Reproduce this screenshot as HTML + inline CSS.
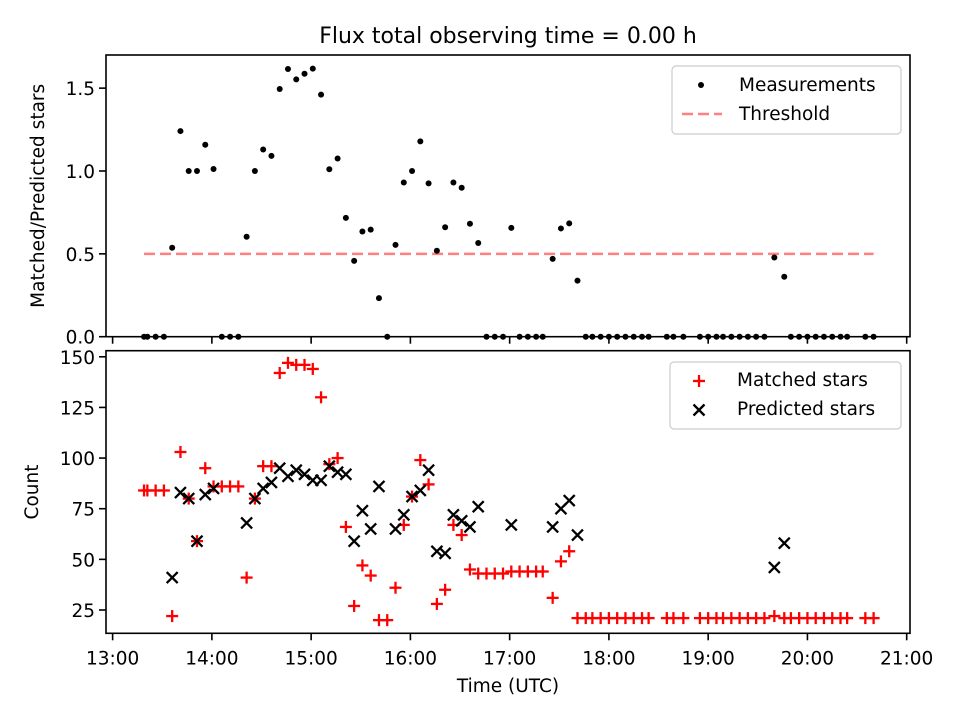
<!DOCTYPE html>
<html><head><meta charset="utf-8"><style>
html,body{margin:0;padding:0;background:#fff;}
svg{display:block;font-family:"DejaVu Sans","Liberation Sans",sans-serif;}
</style></head><body>
<svg id="chart" width="960" height="720" viewBox="0 0 960 720"></svg>
<script>
// Data: minutes after 13:00 UTC, matched and predicted star counts (null = no prediction)
const times = [19,21,26,31,36,41,46,51,56,61,66,71,76,81,86,91,96,101,106,111,116,121,126,131,136,141,146,151,156,161,166,171,176,181,186,191,196,201,206,211,216,221,226,231,236,241,246,251,256,260,266,271,276,281,286,290,295,300,305,310,315,320,324,335,339,345,355,360,365,369,374,379,384,389,394,400,406,410,415,420,425,430,435,440,444,455,460];
const matched = [84,84,84,84,22,103,80,59,95,86,86,86,86,41,80,96,96,142,147,146,146,144,130,97,100,66,27,47,42,20,20,36,67,81,99,87,28,35,67,62,45,43,43,43,43,44,44,44,44,44,31,49,54,21,21,21,21,21,21,21,21,21,21,21,21,21,21,21,21,21,21,21,21,21,21,22,21,21,21,21,21,21,21,21,21,21,21];
const predicted = [null,null,null,null,41,83,80,59,82,85,null,null,null,68,80,85,88,95,91,94,92,89,89,96,93,92,59,74,65,86,null,65,72,81,84,94,54,53,72,69,66,76,null,null,null,67,null,null,null,null,66,75,79,62,null,null,null,null,null,null,null,null,null,null,null,null,null,null,null,null,null,null,null,null,null,46,58,null,null,null,null,null,null,null,null,null,null];
const threshold = 0.5;
const xTickLabels = ["13:00","14:00","15:00","16:00","17:00","18:00","19:00","20:00","21:00"];
const topTicks = [0,0.5,1.0,1.5];
const botTicks = [25,50,75,100,125,150];

const NS="http://www.w3.org/2000/svg";
const svg=document.getElementById('chart');
function mk(tag,attrs,parent){const e=document.createElementNS(NS,tag);for(const k in attrs)e.setAttribute(k,attrs[k]);(parent||svg).appendChild(e);return e;}
const L=106,R=910;
const xMin=-4,xMax=482;
function X(m){return L+(m-xMin)/(xMax-xMin)*(R-L);}
const T1=55,B1=336.7;
function Y1(v){return B1-(v-0)/(1.70-0)*(B1-T1);}
const T2=350.7,B2=633.3,cMin=13.5,cMax=153;
function Y2(c){return B2-(c-cMin)/(cMax-cMin)*(B2-T2);}
const ratio = matched.map((m,i)=>predicted[i]?m/predicted[i]:0);
const FS='18.5';

let t=mk('text',{x:508,y:43,'text-anchor':'middle','font-size':'22',fill:'#000'});
t.textContent='Flux total observing time = 0.00 h';



// ---------- TOP PANEL ----------
const gTop=mk('g',{});


let th=mk('line',{x1:X(times[0]),x2:X(times[times.length-1]),y1:Y1(threshold),y2:Y1(threshold),stroke:'#ff8080','stroke-width':2.5,'stroke-dasharray':'11,5'},gTop);


ratio.forEach((r,i)=>{
  const c=mk('circle',{cx:X(times[i]),cy:Y1(r),r:3,fill:'#000'},gTop);
  
  
});
topTicks.forEach(v=>{
  mk('line',{x1:L-7,x2:L,y1:Y1(v),y2:Y1(v),stroke:'#000','stroke-width':1.6},gTop);
  const tx=mk('text',{x:L-11,y:Y1(v)+7,'text-anchor':'end','font-size':FS,fill:'#000'},gTop);
  tx.textContent=v.toFixed(1);
  
  
});
xTickLabels.forEach((s,i)=>{
  mk('line',{x1:X(i*60),x2:X(i*60),y1:B1,y2:B1+7,stroke:'#000','stroke-width':1.6},gTop);
});
let fr1=mk('rect',{x:L,y:T1,width:R-L,height:B1-T1,fill:'none',stroke:'#000','stroke-width':1.6},gTop);


let yl1=mk('text',{x:0,y:0,'text-anchor':'middle','font-size':FS,fill:'#000',transform:`translate(44,${(T1+B1)/2}) rotate(-90)`},gTop);
yl1.textContent='Matched/Predicted stars';


const lg1=mk('g',{},gTop);


mk('rect',{x:672,y:66,width:229,height:68,rx:4,fill:'#fff','fill-opacity':0.8,stroke:'#ccc','stroke-width':1.2},lg1);
mk('circle',{cx:701,cy:85,r:3,fill:'#000'},lg1);
let lt=mk('text',{x:739,y:91,'font-size':FS,fill:'#000'},lg1);lt.textContent='Measurements';


mk('line',{x1:682,x2:722,y1:114,y2:114,stroke:'#ff8080','stroke-width':2.5,'stroke-dasharray':'11,5'},lg1);
lt=mk('text',{x:739,y:120,'font-size':FS,fill:'#000'},lg1);lt.textContent='Threshold';



// ---------- BOTTOM PANEL ----------
const gBot=mk('g',{});


function plus(cx,cy,col,p){const g=mk('g',{stroke:col,'stroke-width':2.3},p);mk('line',{x1:cx-6,x2:cx+6,y1:cy,y2:cy},g);mk('line',{x1:cx,x2:cx,y1:cy-6,y2:cy+6},g);return g;}
function cross(cx,cy,col,p){const g=mk('g',{stroke:col,'stroke-width':2.3},p);mk('line',{x1:cx-5.5,x2:cx+5.5,y1:cy-5.5,y2:cy+5.5},g);mk('line',{x1:cx-5.5,x2:cx+5.5,y1:cy+5.5,y2:cy-5.5},g);return g;}
matched.forEach((m,i)=>{
  const g=plus(X(times[i]),Y2(m),'#ff0000',gBot);
  
  
});
predicted.forEach((p,i)=>{
  if(p===null)return;
  const g=cross(X(times[i]),Y2(p),'#000',gBot);
  
  
});
botTicks.forEach(v=>{
  mk('line',{x1:L-7,x2:L,y1:Y2(v),y2:Y2(v),stroke:'#000','stroke-width':1.6},gBot);
  const tx=mk('text',{x:L-11,y:Y2(v)+7,'text-anchor':'end','font-size':FS,fill:'#000'},gBot);
  tx.textContent=v;
  
  
});
xTickLabels.forEach((s,i)=>{
  mk('line',{x1:X(i*60),x2:X(i*60),y1:B2,y2:B2+7,stroke:'#000','stroke-width':1.6},gBot);
  const tx=mk('text',{x:X(i*60),y:B2+31,'text-anchor':'middle','font-size':FS,fill:'#000'},gBot);
  tx.textContent=s;
  
  
});
let fr2=mk('rect',{x:L,y:T2,width:R-L,height:B2-T2,fill:'none',stroke:'#000','stroke-width':1.6},gBot);


let yl2=mk('text',{x:0,y:0,'text-anchor':'middle','font-size':FS,fill:'#000',transform:`translate(38,${(T2+B2)/2}) rotate(-90)`},gBot);
yl2.textContent='Count';


let xl=mk('text',{x:508,y:692,'text-anchor':'middle','font-size':FS,fill:'#000'},gBot);
xl.textContent='Time (UTC)';


const lg2=mk('g',{},gBot);


mk('rect',{x:670,y:362,width:231,height:67,rx:4,fill:'#fff','fill-opacity':0.8,stroke:'#ccc','stroke-width':1.2},lg2);
plus(699,381,'#ff0000',lg2);
lt=mk('text',{x:737,y:386,'font-size':FS,fill:'#000'},lg2);lt.textContent='Matched stars';


cross(699,410,'#000',lg2);
lt=mk('text',{x:737,y:415,'font-size':FS,fill:'#000'},lg2);lt.textContent='Predicted stars';


</script>
</body></html>
